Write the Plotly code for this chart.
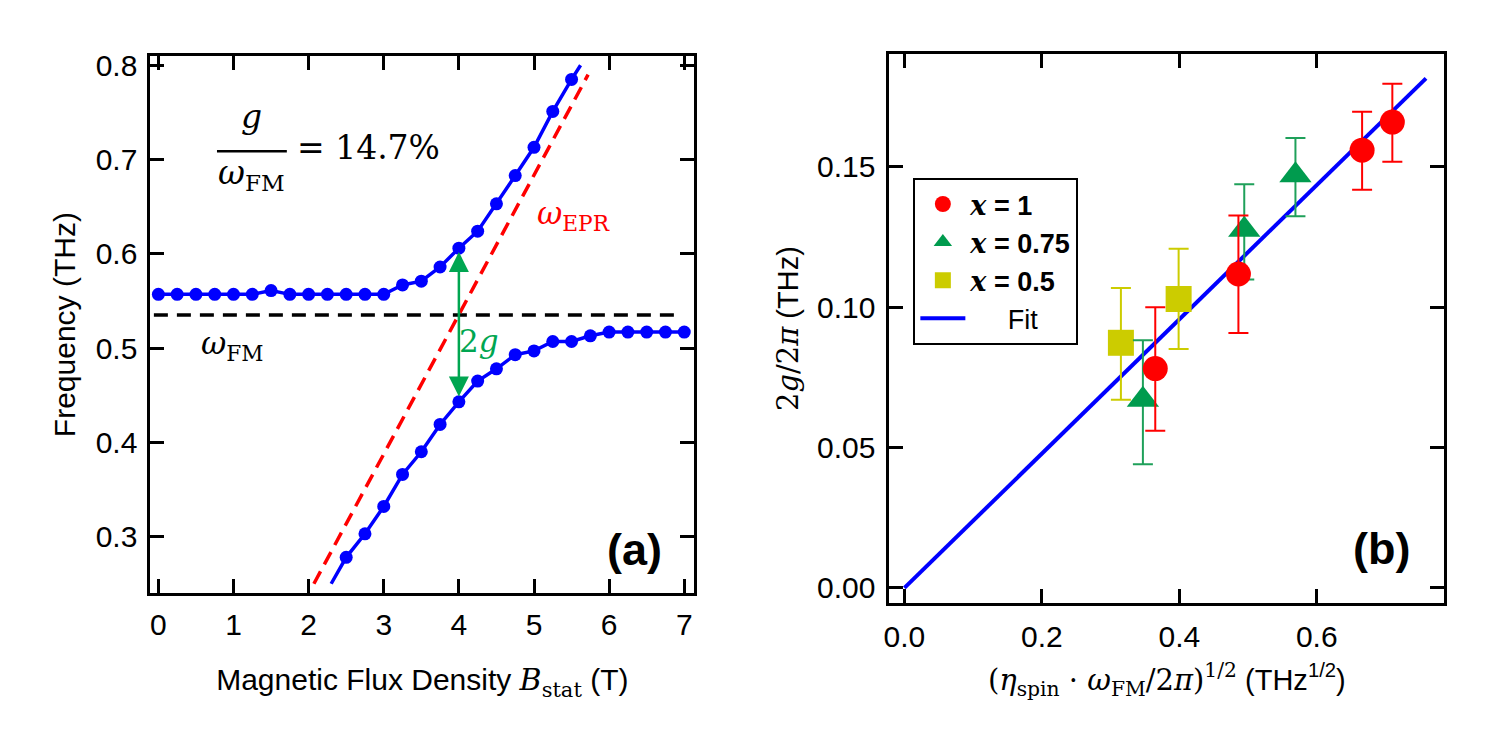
import plotly.graph_objects as go

# ---------------- Panel (a) data ----------------
B_upper = [0.0, 0.25, 0.5, 0.75, 1.0, 1.25, 1.5, 1.75, 2.0, 2.25, 2.5, 2.75, 3.0,
           3.25, 3.5, 3.75, 4.0, 4.25, 4.5, 4.75, 5.0, 5.25, 5.5]
f_upper = [0.557, 0.557, 0.557, 0.557, 0.557, 0.557, 0.561, 0.557, 0.557, 0.557, 0.557, 0.557, 0.557,
           0.567, 0.571, 0.586, 0.606, 0.624, 0.653, 0.683, 0.713, 0.751, 0.785]
B_lower = [2.5, 2.75, 3.0, 3.25, 3.5, 3.75, 4.0, 4.25, 4.5, 4.75, 5.0, 5.25, 5.5,
           5.75, 6.0, 6.25, 6.5, 6.75, 7.0]
f_lower = [0.278, 0.303, 0.332, 0.366, 0.390, 0.419, 0.443, 0.465, 0.478, 0.493, 0.497, 0.507, 0.507,
           0.513, 0.517, 0.517, 0.517, 0.517, 0.517]
# curve extensions beyond the measured points
upper_curve_B = B_upper + [5.62]
upper_curve_f = f_upper + [0.800]
lower_curve_B = [2.30] + B_lower
lower_curve_f = [0.250] + f_lower
epr_B = [2.07, 5.72]
epr_f = [0.250, 0.790]
fm_B = [-0.06, 6.90]
fm_f = [0.535, 0.535]
gap_B = 4.0
gap_f = [0.447, 0.602]

# ---------------- Panel (b) data ----------------
x1_x = [0.365, 0.486, 0.666, 0.710]
x1_y = [0.0781, 0.1118, 0.1559, 0.1659]
x1_up = [0.0219, 0.0208, 0.0137, 0.0137]
x1_dn = [0.0221, 0.0210, 0.0141, 0.0141]

x075_x = [0.347, 0.4945, 0.569]
x075_y = [0.067, 0.1276, 0.147]
x075_up = [0.0212, 0.0162, 0.0132]
x075_dn = [0.0230, 0.0178, 0.0146]

x05_x = [0.315, 0.399]
x05_y = [0.0873, 0.1029]
x05_up = [0.0195, 0.0179]
x05_dn = [0.0203, 0.0178]

fit_x = [0.0, 0.759]
fit_y = [0.0, 0.1815]

BLUE = "#0000ff"
RED = "#ff0000"
GREEN = "#00a651"
TRI_GREEN = "#009b4e"
YELLOW = "#cccc00"
SANS = "Liberation Sans, Arial, sans-serif"
SERIF = "DejaVu Serif, serif"
SER = "<span style='font-family:DejaVu Serif'>"

fig = go.Figure()

# Panel (a)
fig.add_trace(go.Scatter(x=fm_B, y=fm_f, mode="lines", xaxis="x", yaxis="y",
                         line=dict(color="black", width=3.5, dash="14px,9px"), showlegend=False))
fig.add_trace(go.Scatter(x=epr_B, y=epr_f, mode="lines", xaxis="x", yaxis="y",
                         line=dict(color=RED, width=3.5, dash="14px,8px"), showlegend=False))
fig.add_trace(go.Scatter(x=upper_curve_B, y=upper_curve_f, mode="lines", xaxis="x", yaxis="y",
                         line=dict(color=BLUE, width=3.5), showlegend=False))
fig.add_trace(go.Scatter(x=lower_curve_B, y=lower_curve_f, mode="lines", xaxis="x", yaxis="y",
                         line=dict(color=BLUE, width=3.5), showlegend=False))
fig.add_trace(go.Scatter(x=B_upper, y=f_upper, mode="markers", xaxis="x", yaxis="y",
                         marker=dict(color=BLUE, size=13), showlegend=False))
fig.add_trace(go.Scatter(x=B_lower, y=f_lower, mode="markers", xaxis="x", yaxis="y",
                         marker=dict(color=BLUE, size=13), showlegend=False))

# Panel (b)
fig.add_trace(go.Scatter(x=fit_x, y=fit_y, mode="lines", xaxis="x2", yaxis="y2",
                         line=dict(color=BLUE, width=4), name="\u00a0\u00a0\u00a0\u00a0\u00a0Fit",
                         showlegend=True, legendrank=4))
fig.add_trace(go.Scatter(x=x05_x, y=x05_y, mode="markers", xaxis="x2", yaxis="y2",
                         marker=dict(color=YELLOW, size=26, symbol="square"),
                         error_y=dict(type="data", symmetric=False, array=x05_up, arrayminus=x05_dn,
                                      color=YELLOW, thickness=2, width=10),
                         name=SER + "<b><i>x</i></b></span><b> = 0.5</b>", legendrank=3))
fig.add_trace(go.Scatter(x=x075_x, y=x075_y, mode="markers", xaxis="x2", yaxis="y2",
                         marker=dict(color=TRI_GREEN, size=28, symbol="triangle-up"),
                         error_y=dict(type="data", symmetric=False, array=x075_up, arrayminus=x075_dn,
                                      color="#1fa05a", thickness=2, width=10),
                         name=SER + "<b><i>x</i></b></span><b> = 0.75</b>", legendrank=2))
fig.add_trace(go.Scatter(x=x1_x, y=x1_y, mode="markers", xaxis="x2", yaxis="y2",
                         marker=dict(color=RED, size=25, symbol="circle"),
                         error_y=dict(type="data", symmetric=False, array=x1_up, arrayminus=x1_dn,
                                      color=RED, thickness=2, width=10),
                         name=SER + "<b><i>x</i></b></span><b> = 1</b>", legendrank=1))

axis_common = dict(showline=True, linecolor="black", linewidth=3, mirror="allticks",
                   ticks="inside", ticklen=14, tickwidth=2.5, tickcolor="black",
                   showgrid=False, zeroline=False,
                   tickfont=dict(family=SANS, size=30, color="black"))

fig.update_layout(
    width=1500, height=750,
    margin=dict(l=0, r=0, t=0, b=0),
    paper_bgcolor="white", plot_bgcolor="white",
    xaxis=dict(domain=[145/1500, 691/1500], range=[-0.106, 7.133], anchor="y",
               tickvals=[0, 1, 2, 3, 4, 5, 6, 7], ticklabelstandoff=3,
               title=dict(text="Magnetic Flux Density " + SER + "<i>B</i><sub>stat</sub></span> (T)",
                          font=dict(family=SANS, size=30, color="black"), standoff=30),
               **axis_common),
    yaxis=dict(domain=[1-592/750, 1-49/750], range=[0.2403, 0.8094], anchor="x",
               tickvals=[0.3, 0.4, 0.5, 0.6, 0.7, 0.8], tickformat=".1f", ticklabelstandoff=4,
               title=dict(text="Frequency (THz)", font=dict(family=SANS, size=30, color="black"), standoff=12),
               **axis_common),
    xaxis2=dict(domain=[887/1500, 1444/1500], range=[-0.0218, 0.7855], anchor="y2",
                tickvals=[0.0, 0.2, 0.4, 0.6], tickformat=".1f", ticklabelstandoff=5,
                title=dict(text=SER + "(<i>η</i><sub>spin</sub> · <i>ω</i><sub>FM</sub>/2<i>π</i>)<sup>1/2</sup></span> (THz<sup>1/2</sup>)",
                           font=dict(family=SANS, size=29, color="black"), standoff=18),
                **axis_common),
    yaxis2=dict(domain=[1-602/750, 1-47/750], range=[-0.0053, 0.190], anchor="x2",
                tickvals=[0.0, 0.05, 0.10, 0.15], tickformat=".2f", ticklabelstandoff=5,
                title=dict(text=SER + "2<i>g</i>/2<i>π</i></span> (THz)",
                           font=dict(family=SANS, size=29, color="black"), standoff=10),
                **axis_common),
    legend=dict(x=911/1500, y=1-172/750, xanchor="left", yanchor="top",
                bgcolor="white", bordercolor="black", borderwidth=2,
                font=dict(family=SANS, size=27, color="black"),
                tracegroupgap=0, itemwidth=45),
    showlegend=True,
)

annotations = [
    dict(x=1.246, y=0.746, xref="x", yref="y", text="<i>g</i>", showarrow=False,
         font=dict(family=SERIF, size=33, color="black")),
    dict(x=1.246, y=0.684, xref="x", yref="y", text="<i>ω</i><sub>FM</sub>", showarrow=False,
         font=dict(family=SERIF, size=33, color="black")),
    dict(x=2.80, y=0.713, xref="x", yref="y", text="= 14.7%", showarrow=False,
         font=dict(family=SERIF, size=33, color="black")),
    dict(x=0.98, y=0.503, xref="x", yref="y", text="<i>ω</i><sub>FM</sub>", showarrow=False,
         font=dict(family=SERIF, size=31, color="black")),
    dict(x=5.53, y=0.641, xref="x", yref="y", text="<i>ω</i><sub>EPR</sub>", showarrow=False,
         font=dict(family=SERIF, size=31, color=RED)),
    dict(x=4.27, y=0.5075, xref="x", yref="y", text="2<i>g</i>", showarrow=False,
         font=dict(family=SERIF, size=31, color=GREEN)),
    dict(x=6.34, y=0.2863, xref="x", yref="y", text="<b>(a)</b>", showarrow=False,
         font=dict(family=SANS, size=45, color="black")),
    dict(x=0.694, y=0.0142, xref="x2", yref="y2", text="<b>(b)</b>", showarrow=False,
         font=dict(family=SANS, size=45, color="black")),
    dict(x=gap_B, y=gap_f[1], ax=gap_B, ay=gap_f[0], xref="x", yref="y", axref="x", ayref="y",
         text="", showarrow=True, arrowhead=2, startarrowhead=2, arrowside="end+start",
         arrowsize=1.6, startarrowsize=1.6, arrowwidth=2.5, arrowcolor=GREEN),
]
fig.update_layout(annotations=annotations)

fig.add_shape(type="line", xref="x", yref="y", x0=0.78, x1=1.71, y0=0.7088, y1=0.7088,
              line=dict(color="black", width=2.5))

fig.write_html("out.html")
